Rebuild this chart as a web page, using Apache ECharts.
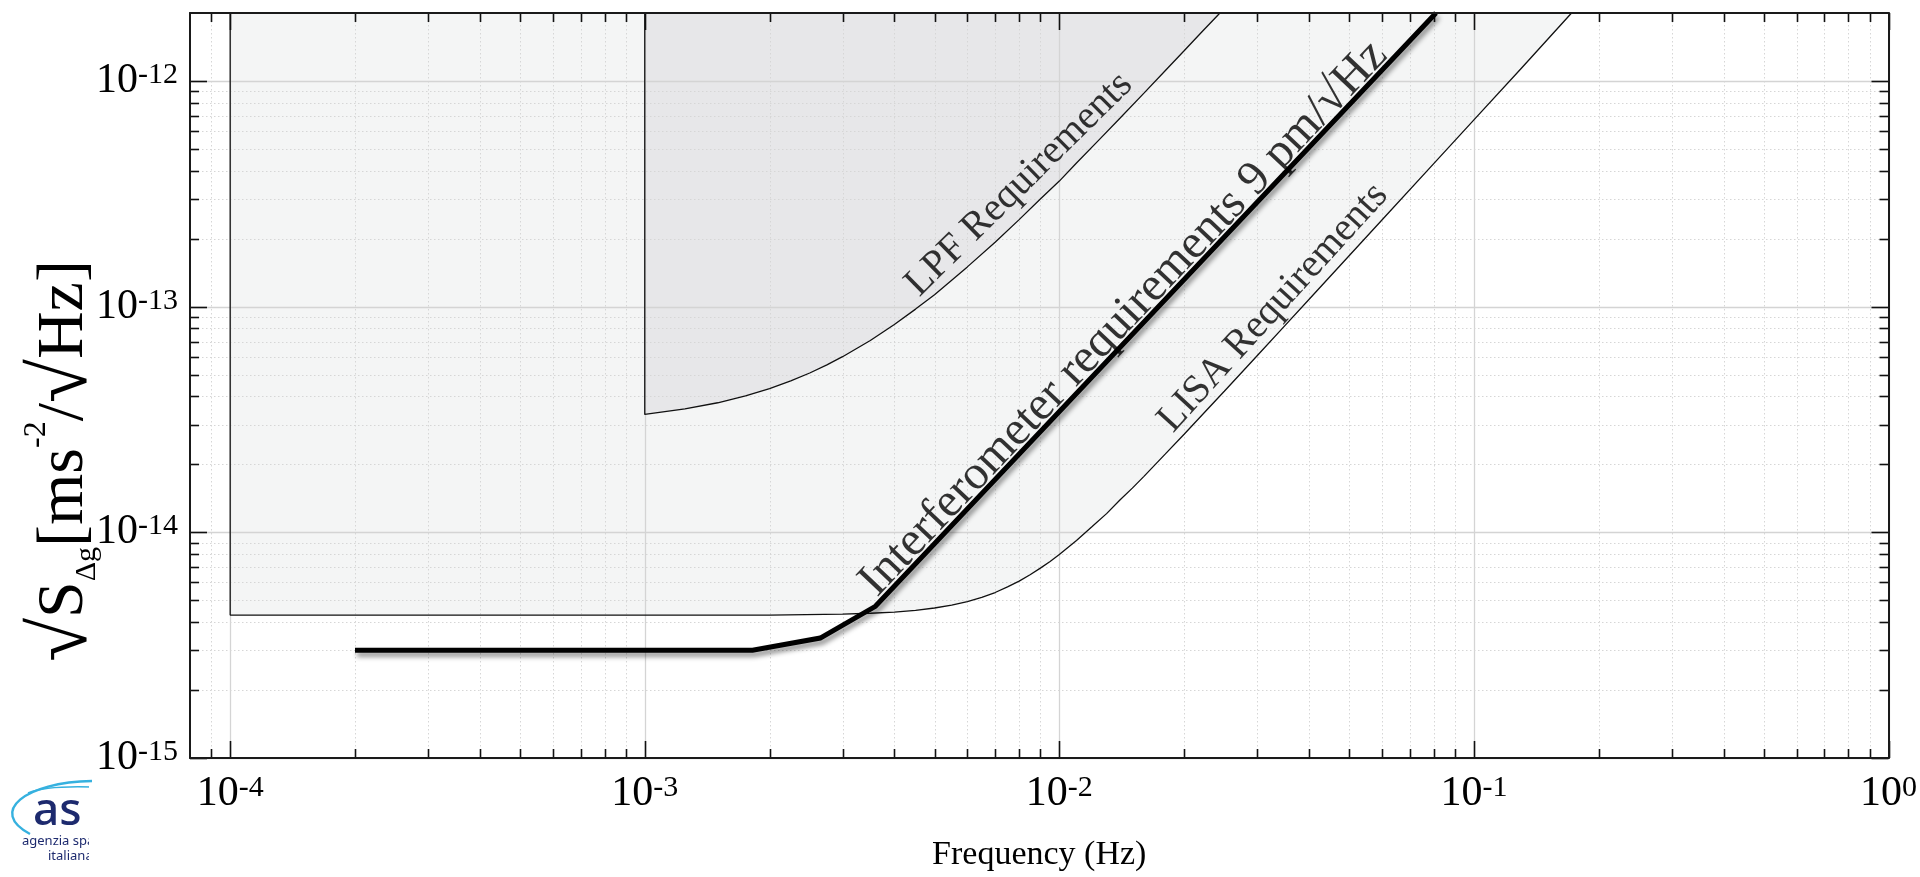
<!DOCTYPE html>
<html>
<head>
<meta charset="utf-8">
<script src="https://cdn.jsdelivr.net/npm/echarts@6/dist/echarts.min.js"></script>
<style>
  html, body { margin: 0; padding: 0; background: #ffffff; }
  #chart { width: 1920px; height: 877px; }
</style>
</head>
<body>
<div id="chart"></div>
<script>
// Acceleration noise requirements: amplitude spectral density vs frequency

// LISA requirement envelope (first point is the top of its left edge)
const lisaFreq = [1e-4, 1e-4, 1e-3, 2e-3, 3e-3, 3.5e-3, 4e-3, 4.5e-3, 5e-3, 5.5e-3, 6e-3, 6.5e-3, 7e-3, 7.5e-3,
  8e-3, 8.5e-3, 9e-3, 9.5e-3, 1e-2, 1.1e-2, 1.2e-2, 1.3e-2, 1.4e-2, 1.5e-2, 1.6e-2, 1.8e-2, 2e-2, 2.25e-2,
  2.5e-2, 3e-2, 3.5e-2, 4e-2, 5e-2, 6e-2, 8e-2, 1e-1, 1.3e-1, 1.72e-1];
const lisaAsd = [2e-12, 4.3e-15, 4.3e-15, 4.3e-15, 4.34e-15, 4.38e-15, 4.43e-15, 4.51e-15, 4.62e-15, 4.76e-15, 4.93e-15, 5.15e-15, 5.41e-15, 5.73e-15,
  6.08e-15, 6.49e-15, 6.94e-15, 7.43e-15, 7.98e-15, 9.2e-15, 1.06e-14, 1.21e-14, 1.39e-14, 1.57e-14, 1.77e-14, 2.22e-14, 2.72e-14, 3.43e-14,
  4.22e-14, 6.06e-14, 8.24e-14, 1.076e-13, 1.68e-13, 2.42e-13, 4.3e-13, 6.72e-13, 1.136e-12, 2e-12];

// LISA Pathfinder requirement envelope (first point is the top of its left edge)
const lpfFreq = [1e-3, 1e-3, 1.25e-3, 1.5e-3, 1.75e-3, 2e-3, 2.25e-3, 2.5e-3, 2.75e-3, 3e-3, 3.5e-3, 4e-3, 4.5e-3,
  5e-3, 5.5e-3, 6e-3, 7e-3, 8e-3, 9e-3, 1e-2, 1.1e-2, 1.25e-2, 1.4e-2, 1.6e-2, 1.8e-2, 2e-2, 2.2e-2, 2.44e-2];
const lpfAsd = [2e-12, 3.33e-14, 3.52e-14, 3.75e-14, 4.02e-14, 4.33e-14, 4.69e-14, 5.08e-14, 5.52e-14, 6.0e-14, 7.08e-14, 8.33e-14, 9.75e-14,
  1.13e-13, 1.31e-13, 1.5e-13, 1.93e-13, 2.43e-13, 3.0e-13, 3.6e-13, 4.33e-13, 5.51e-13, 6.83e-13, 8.83e-13, 1.11e-12, 1.36e-12, 1.64e-12, 2e-12];

// Interferometer requirement (9 pm/sqrt(Hz))
const ifoFreq = [2e-4, 1.82e-3, 2.65e-3, 3.6e-3, 8.1e-2];
const ifoAsd = [3e-15, 3e-15, 3.4e-15, 4.7e-15, 2e-12];

// Tick values
const xMajorTicks = [1e-4, 1e-3, 1e-2, 1e-1, 1];
const xMinorTicks = [9e-5,
  2e-4, 3e-4, 4e-4, 5e-4, 6e-4, 7e-4, 8e-4, 9e-4,
  2e-3, 3e-3, 4e-3, 5e-3, 6e-3, 7e-3, 8e-3, 9e-3,
  2e-2, 3e-2, 4e-2, 5e-2, 6e-2, 7e-2, 8e-2, 9e-2,
  2e-1, 3e-1, 4e-1, 5e-1, 6e-1, 7e-1, 8e-1, 9e-1];
const yMajorTicks = [1e-15, 1e-14, 1e-13, 1e-12];
const yMinorTicks = [
  2e-15, 3e-15, 4e-15, 5e-15, 6e-15, 7e-15, 8e-15, 9e-15,
  2e-14, 3e-14, 4e-14, 5e-14, 6e-14, 7e-14, 8e-14, 9e-14,
  2e-13, 3e-13, 4e-13, 5e-13, 6e-13, 7e-13, 8e-13, 9e-13];

const curveNames = ['LPF Requirements', 'LISA Requirements', 'Interferometer requirements 9 pm/\u221AHz'];

const X_MIN = 8e-5, X_MAX = 1, Y_MIN = 1e-15, Y_MAX = 2e-12;
const SERIF = '"Liberation Serif", "Times New Roman", serif';

const zip = (xs, ys) => xs.map((x, i) => [x, ys[i]]);
const lisaData = zip(lisaFreq, lisaAsd);
const lpfData = zip(lpfFreq, lpfAsd);
const ifoData = zip(ifoFreq, ifoAsd);

// grid/tick items: [x, y, kind] kind 0 x-major, 1 x-minor, 2 y-major, 3 y-minor
const gridData = []
  .concat(xMajorTicks.map(v => [v, Y_MIN, 0]))
  .concat(xMinorTicks.map(v => [v, Y_MIN, 1]))
  .concat(yMajorTicks.map(v => [X_MIN, v, 2]))
  .concat(yMinorTicks.map(v => [X_MIN, v, 3]));

function renderGrid(params, api) {
  const kind = api.value(2);
  const cs = params.coordSys;
  const left = cs.x, right = cs.x + cs.width, top = cs.y, bottom = cs.y + cs.height;
  const major = (kind === 0 || kind === 2);
  const len = major ? 17 : 9;
  const gStyle = major
    ? { stroke: '#d4d4d4', lineWidth: 1.3 }
    : { stroke: '#d6d6d6', lineWidth: 1, lineDash: [1.5, 2.5] };
  const tStyle = { stroke: '#111111', lineWidth: 1.6 };
  const pt = api.coord([api.value(0), api.value(1)]);
  const children = [];
  if (kind < 2) {
    const px = Math.round(pt[0]) + 0.5;
    children.push({ type: 'line', shape: { x1: px, y1: top, x2: px, y2: bottom }, style: gStyle });
    children.push({ type: 'line', shape: { x1: px, y1: bottom, x2: px, y2: bottom - len }, style: tStyle });
    children.push({ type: 'line', shape: { x1: px, y1: top, x2: px, y2: top + len }, style: tStyle });
  } else {
    const py = Math.round(pt[1]) + 0.5;
    children.push({ type: 'line', shape: { x1: left, y1: py, x2: right, y2: py }, style: gStyle });
    children.push({ type: 'line', shape: { x1: left, y1: py, x2: left + len, y2: py }, style: tStyle });
    children.push({ type: 'line', shape: { x1: right, y1: py, x2: right - len, y2: py }, style: tStyle });
  }
  return { type: 'group', children: children };
}

function powLabel(v) {
  const e = Math.log10(v);
  const k = Math.round(e);
  if (Math.abs(e - k) > 1e-6) return '';
  return '{b|10}{e|' + k + '}';
}

const tickRich = {
  b: { fontFamily: SERIF, fontSize: 42, lineHeight: 42, verticalAlign: 'bottom', color: '#000' },
  e: { fontFamily: SERIF, fontSize: 30, lineHeight: 30, verticalAlign: 'top', padding: [0, 0, 25, 0], color: '#000' }
};

const frameLine = { show: true, onZero: false, lineStyle: { color: '#1a1a1a', width: 2 } };

const chart = echarts.init(document.getElementById('chart'), null, { renderer: 'canvas' });

chart.setOption({
  animation: false,
  backgroundColor: '#ffffff',
  grid: { left: 190, right: 29, top: 13, bottom: 115, containLabel: false },
  xAxis: [
    {
      type: 'log', logBase: 10, min: X_MIN, max: X_MAX, position: 'bottom', z: 5,
      axisLine: frameLine, axisTick: { show: false }, minorTick: { show: false },
      splitLine: { show: false }, minorSplitLine: { show: false },
      axisLabel: { show: true, margin: 15, formatter: powLabel, rich: tickRich },
      name: 'Frequency (Hz)', nameLocation: 'middle', nameGap: 80,
      nameTextStyle: { fontFamily: SERIF, fontSize: 34, color: '#000' }
    },
    {
      type: 'log', logBase: 10, min: X_MIN, max: X_MAX, position: 'top', z: 5,
      axisLine: frameLine, axisTick: { show: false }, axisLabel: { show: false },
      splitLine: { show: false }
    }
  ],
  yAxis: [
    {
      type: 'log', logBase: 10, min: Y_MIN, max: Y_MAX, position: 'left', z: 5,
      axisLine: frameLine, axisTick: { show: false }, minorTick: { show: false },
      splitLine: { show: false }, minorSplitLine: { show: false },
      axisLabel: { show: true, margin: 12, formatter: powLabel, rich: tickRich }
    },
    {
      type: 'log', logBase: 10, min: Y_MIN, max: Y_MAX, position: 'right', z: 5,
      axisLine: frameLine, axisTick: { show: false }, axisLabel: { show: false },
      splitLine: { show: false }
    }
  ],
  graphic: [
    {
      type: 'text', x: 65, y: 461, rotation: Math.PI / 2, z: 5,
      style: {
        text: '{rad|\u221A}{r|S}{sub|\u0394g}{r|[ms}{sup|-2}{r|/}{rad|\u221A}{r|Hz]}',
        align: 'center', verticalAlign: 'middle', fill: '#000',
        rich: {
          r: { fontFamily: SERIF, fontSize: 66, lineHeight: 88, verticalAlign: 'middle', fill: '#000' },
          rad: { fontFamily: SERIF, fontSize: 80, lineHeight: 88, verticalAlign: 'middle', fill: '#000' },
          sup: { fontFamily: SERIF, fontSize: 32, lineHeight: 32, verticalAlign: 'top', fill: '#000' },
          sub: { fontFamily: SERIF, fontSize: 30, lineHeight: 30, verticalAlign: 'bottom', padding: [0, 0, 7, 0], fill: '#000' }
        }
      }
    },
    // agency logo in the lower-left corner, cut off on its right side
    {
      type: 'group', z: 1,
      children: [
        { type: 'bezierCurve', shape: { x1: 92, y1: 781, cpx1: 25, cpy1: 782, cpx2: -12, cpy2: 812, x2: 30, y2: 834 },
          style: { stroke: '#36b1df', lineWidth: 2.4, fill: null } },
        { type: 'bezierCurve', shape: { x1: 92, y1: 787, cpx1: 60, cpy1: 786, cpx2: 40, cpy2: 788, x2: 28, y2: 793 },
          style: { stroke: '#36b1df', lineWidth: 1.6, fill: null } },
        { type: 'text', x: 33, y: 789, style: { text: 'as', font: '500 46px "Noto Sans"', fill: '#1d2a6e' } },
        { type: 'text', x: 22, y: 835, style: { text: 'agenzia spaziale', font: '13px "Noto Sans"', fill: '#1d2a6e' } },
        { type: 'text', x: 48, y: 850, style: { text: 'italiana', font: '13px "Noto Sans"', fill: '#1d2a6e' } },
        { type: 'rect', shape: { x: 89, y: 786, width: 98, height: 91 }, style: { fill: '#ffffff' } }
      ]
    }
  ],
  series: [
    {
      name: 'LISA area', type: 'line', data: lisaData, z: 1, silent: true, symbol: 'none',
      lineStyle: { width: 0 }, areaStyle: { color: '#f4f5f5', opacity: 1, origin: 'end' }
    },
    {
      name: 'LPF area', type: 'line', data: lpfData, z: 1, silent: true, symbol: 'none',
      lineStyle: { width: 0 }, areaStyle: { color: '#e7e7e9', opacity: 1, origin: 'end' }
    },
    {
      name: 'grid', type: 'custom', data: gridData, z: 2, silent: true, renderItem: renderGrid
    },
    {
      name: curveNames[1], type: 'line', data: lisaData, z: 3, silent: true, symbol: 'none',
      lineStyle: { color: '#111111', width: 1.3 }
    },
    {
      name: curveNames[0], type: 'line', data: lpfData, z: 3, silent: true, symbol: 'none',
      lineStyle: { color: '#111111', width: 1.3 }
    },
    {
      name: curveNames[2], type: 'line', data: ifoData, z: 4, silent: true, symbol: 'none',
      lineStyle: {
        color: '#000000', width: 5, join: 'miter', cap: 'butt',
        shadowColor: 'rgba(0,0,0,0.45)', shadowBlur: 5, shadowOffsetX: 2, shadowOffsetY: 4
      }
    },
    {
      name: 'curve labels', type: 'scatter', z: 6, silent: true, symbolSize: 1,
      itemStyle: { color: 'rgba(0,0,0,0)' },
      label: {
        show: true, position: 'inside', align: 'center', verticalAlign: 'middle',
        fontFamily: SERIF, color: '#000', formatter: p => p.name
      },
      data: [
        { name: curveNames[0], value: [8.0e-3, 3.48e-13], label: { rotate: 44.5, fontSize: 40 } },
        { name: curveNames[1], value: [3.28e-2, 9.9e-14], label: { rotate: 47.7, fontSize: 40 } },
        { name: curveNames[2], value: [1.43e-2, 8.86e-14], label: { rotate: 46.6, fontSize: 48 } }
      ]
    }
  ]
});
</script>
</body>
</html>
